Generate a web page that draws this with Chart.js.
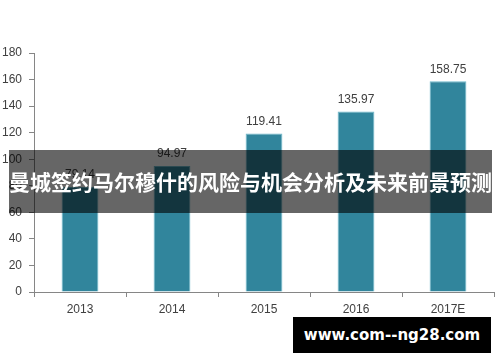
<!DOCTYPE html>
<html>
<head>
<meta charset="utf-8">
<script src="https://cdn.jsdelivr.net/npm/chart.js@4"></script>
<style>
    html, body { margin: 0; padding: 0; background: #fff; }
    #wrap { position: relative; width: 500px; height: 362px; overflow: hidden; }
    #banner {
        position: absolute; left: 9px; top: 150px; width: 483px; height: 63px;
        background: rgba(0, 0, 0, 0.6); color: #fff;
        font-family: "Noto Sans CJK SC", sans-serif; font-weight: 700; font-size: 21px;
        line-height: 63px; text-align: center; white-space: nowrap; overflow: hidden;
    }
    #mark {
        position: absolute; left: 293px; top: 317px; width: 198px; height: 36px;
        background: #000; color: #fff;
        font: bold 15px "DejaVu Sans", sans-serif;
        line-height: 36px; text-align: center;
    }
</style>
</head>
<body>
<div id="wrap">
    <canvas id="chart" width="500" height="362"></canvas>
    <div id="banner">曼城签约马尔穆什的风险与机会分析及未来前景预测</div>
    <div id="mark">www.com--ng28.com</div>
</div>
<script>
const years = ["2013", "2014", "2015", "2016", "2017E"];
const values = [79.14, 94.97, 119.41, 135.97, 158.75];

// draw the value above each bar
const value_labels = {
    id: "value_labels",
    afterDatasetsDraw(chart) {
        let ctx = chart.ctx;
        let meta = chart.getDatasetMeta(0);
        ctx.save();
        ctx.font = "12px 'Liberation Sans', sans-serif";
        ctx.fillStyle = "#404040";
        ctx.textAlign = "center";
        ctx.textBaseline = "bottom";
        meta.data.forEach((bar, i) => {
            ctx.fillText(values[i].toFixed(2), bar.x, bar.y - 6);
        });
        ctx.restore();
    }
};

window.onload = () => {
    new Chart(document.querySelector("#chart"), {
        type: "bar",
        data: {
            labels: years,
            datasets: [{
                data: values,
                backgroundColor: "#31859c",
                borderColor: "#6fb8cb",
                borderWidth: { top: 1, left: 1, right: 1, bottom: 0 },
                categoryPercentage: 1,
                barPercentage: 0.4
            }]
        },
        options: {
            responsive: false,
            animation: false,
            layout: { padding: { top: 53, right: 6, bottom: 0, left: 0 } },
            plugins: { legend: { display: false }, tooltip: { enabled: false } },
            scales: {
                x: {
                    grid: { drawOnChartArea: false, color: "#868686", tickLength: 5, offset: true },
                    border: { color: "#868686" },
                    ticks: { color: "#404040", font: { family: "Liberation Sans", size: 12 }, padding: 5 },
                    afterFit: (s) => { s.height = 70; }
                },
                y: {
                    min: 0,
                    max: 180,
                    grid: { drawOnChartArea: false, color: "#868686", tickLength: 5 },
                    border: { color: "#868686" },
                    ticks: { stepSize: 20, color: "#404040", font: { family: "Liberation Sans", size: 12 }, padding: 7 },
                    afterFit: (s) => { s.width = 34; }
                }
            }
        },
        plugins: [value_labels]
    });
}
</script>
</body>
</html>
